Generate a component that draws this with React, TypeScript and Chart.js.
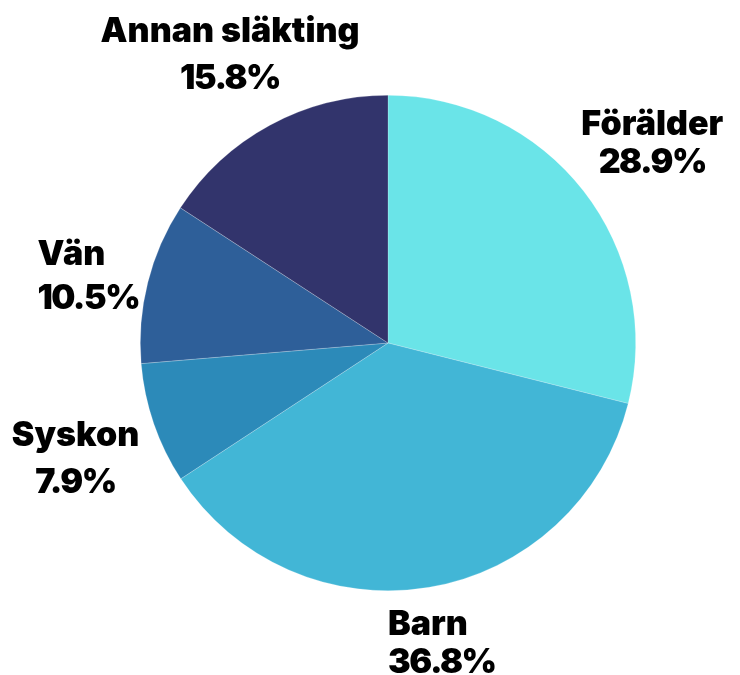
import React, { useEffect, useRef } from "react";
import { Chart, registerables } from "chart.js";

Chart.register(...registerables);

const categories = ["Förälder", "Barn", "Syskon", "Vän", "Annan släkting"];
const values = [28.9, 36.8, 7.9, 10.5, 15.8];
const valueLabels = ["28.9%", "36.8%", "7.9%", "10.5%", "15.8%"];
const colors = ["#6ae4e8", "#42b6d6", "#2c8ab9", "#2e5f99", "#32346c"];

// label layout styling (not data)
const labelAlign: ("center" | "left")[] = ["center", "left", "center", "left", "center"];
const labelLineGap = [38, 38, 47, 44, 47];
const labelPad = [8, 10, 10, 3, -12];
const labelShiftX = [2, 4, 0, 0, 0];
const labelShiftY = [5, 5, 9, 9, 4];

const FONT = "900 34px Inter, 'Open Sans', sans-serif";

const outsideLabels = {
  id: "outsideLabels",
  afterDraw(chart: any) {
    const ctx = chart.ctx as CanvasRenderingContext2D;
    const meta = chart.getDatasetMeta(0);
    ctx.save();
    ctx.font = FONT;
    ctx.fillStyle = "#000000";
    ctx.textBaseline = "middle";
    const spacing = ["0px", "-1.5px"];
    meta.data.forEach((arc: any, i: number) => {
      const p = arc.getProps(["x", "y", "startAngle", "endAngle", "outerRadius"], true);
      const mid = (p.startAngle + p.endAngle) / 2;
      const dx = Math.cos(mid);
      const dy = Math.sin(mid);
      const lines = [categories[i], valueLabels[i]];
      const widths = lines.map((l, j) => {
        (ctx as any).letterSpacing = spacing[j];
        return ctx.measureText(l).width;
      });
      const w = Math.max(...widths);
      const gap = labelLineGap[i];
      const h = gap + 30;
      const dist = p.outerRadius + labelPad[i] + Math.abs(dx) * (w / 2) + Math.abs(dy) * (h / 2);
      const cx = p.x + dx * dist + labelShiftX[i];
      const cy = p.y + dy * dist + labelShiftY[i];
      lines.forEach((l, j) => {
        (ctx as any).letterSpacing = spacing[j];
        const y = cy - gap / 2 + j * gap;
        if (labelAlign[i] === "left") {
          ctx.textAlign = "left";
          ctx.fillText(l, cx - w / 2, y);
        } else {
          ctx.textAlign = "center";
          ctx.fillText(l, cx, y);
        }
      });
    });
    ctx.restore();
  },
};

export default function App() {
  const ref = useRef<HTMLCanvasElement>(null);
  useEffect(() => {
    if (!ref.current) return;
    const chart = new Chart(ref.current, {
      type: "pie",
      data: {
        labels: categories,
        datasets: [
          {
            data: values,
            backgroundColor: colors,
            borderColor: "rgba(255,255,255,0.35)",
            borderWidth: 0.6,
          },
        ],
      },
      options: {
        animation: false,
        responsive: false,
        layout: { padding: { top: 95, bottom: 84, left: 140, right: 104 } },
        plugins: { legend: { display: false }, tooltip: { enabled: false } },
      },
      plugins: [outsideLabels],
    });
    return () => chart.destroy();
  }, []);
  return (
    <div style={{ position: "absolute", left: 0, top: 0, width: 740, height: 675, background: "#fff" }}>
      <canvas ref={ref} width={740} height={675} style={{ width: 740, height: 675 }} />
    </div>
  );
}
